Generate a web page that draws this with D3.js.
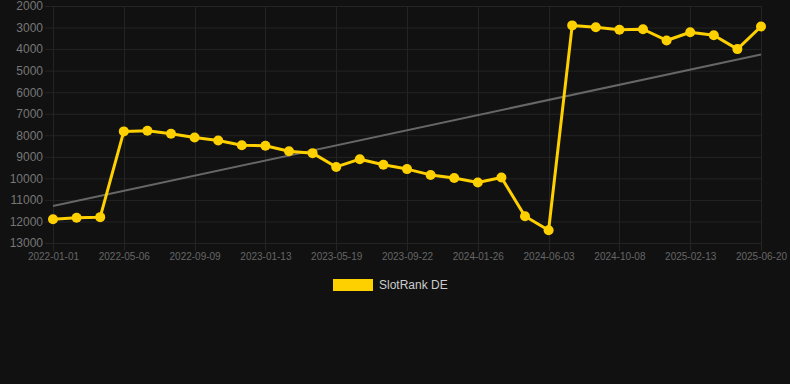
<!DOCTYPE html>
<html>
<head>
<meta charset="utf-8">
<script src="https://cdn.jsdelivr.net/npm/d3@7/dist/d3.min.js"></script>
<style>
  html, body { margin: 0; padding: 0; background: #111111; }
  svg { display: block; }
</style>
</head>
<body>
<div id="chart"></div>
<script>
// categories (one every ~6 weeks)
var dates = [
  '2022-01-01','2022-02-12','2022-03-26','2022-05-06','2022-06-17','2022-07-29',
  '2022-09-09','2022-10-21','2022-12-02','2023-01-13','2023-02-24','2023-04-07',
  '2023-05-19','2023-06-30','2023-08-11','2023-09-22','2023-11-03','2023-12-15',
  '2024-01-26','2024-03-09','2024-04-22','2024-06-03','2024-07-15','2024-08-26',
  '2024-10-08','2024-11-19','2025-01-01','2025-02-13','2025-03-27','2025-05-08',
  '2025-06-20'
];
// SlotRank DE values
var ranks = [
  11900, 11830, 11800, 7820, 7790, 7930,
  8100, 8240, 8460, 8490, 8740, 8830,
  9470, 9110, 9370, 9570, 9840, 9980,
  10190, 9960, 11760, 12410, 2900, 2990,
  3100, 3080, 3600, 3220, 3360, 4000,
  2950
];
var yTicks = [2000, 3000, 4000, 5000, 6000, 7000, 8000, 9000, 10000, 11000, 12000, 13000];
var seriesName = 'SlotRank DE';

var width = 790, height = 384;
var margin = {top: 6, right: 29, bottom: 141, left: 53};

var svg = d3.select('#chart')
  .append('svg')
    .attr('width', width)
    .attr('height', height);

svg.append('rect')
  .attr('width', width)
  .attr('height', height)
  .attr('fill', '#111111');

var x = d3.scalePoint()
  .domain(dates)
  .range([margin.left, width - margin.right]);

var y = d3.scaleLinear()
  .domain([2000, 13000])
  .range([margin.top, height - margin.bottom]);

// only every 3rd label is shown
var shownDates = dates.filter(function(d, i){ return i % 3 === 0; });

// grid
var grid = svg.append('g');
grid.selectAll('line.h')
  .data(yTicks)
  .enter().append('line')
    .attr('x1', margin.left - 8)
    .attr('x2', width - margin.right)
    .attr('y1', function(d){ return y(d) + 0.5; })
    .attr('y2', function(d){ return y(d) + 0.5; })
    .attr('stroke', '#242424')
    .attr('stroke-width', 1);
grid.selectAll('line.v')
  .data(shownDates)
  .enter().append('line')
    .attr('x1', function(d){ return Math.round(x(d)) + 0.5; })
    .attr('x2', function(d){ return Math.round(x(d)) + 0.5; })
    .attr('y1', margin.top)
    .attr('y2', height - margin.bottom + 8)
    .attr('stroke', '#242424')
    .attr('stroke-width', 1);

// axes
var yAxis = svg.append('g')
  .attr('transform', 'translate(' + (margin.left - 10) + ',0)')
  .call(d3.axisLeft(y).tickValues(yTicks).tickSize(0).tickPadding(0).tickFormat(d3.format('d')));
yAxis.select('.domain').remove();
yAxis.selectAll('text')
  .attr('fill', '#777777')
  .style('font-family', 'Liberation Sans, Arial, sans-serif')
  .style('font-size', '12px');

var xAxis = svg.append('g')
  .attr('transform', 'translate(0,' + (height - margin.bottom) + ')')
  .call(d3.axisBottom(x).tickValues(shownDates).tickSize(0).tickPadding(10));
xAxis.select('.domain').remove();
xAxis.selectAll('text')
  .attr('fill', '#666666')
  .style('font-family', 'Liberation Sans, Arial, sans-serif')
  .style('font-size', '10px');

// trend line (least squares over index)
var n = ranks.length;
var mx = d3.mean(ranks, function(d, i){ return i; });
var my = d3.mean(ranks);
var sxy = d3.sum(ranks, function(d, i){ return (i - mx) * (d - my); });
var sxx = d3.sum(ranks, function(d, i){ return (i - mx) * (i - mx); });
var slope = sxy / sxx;
var icpt = my - slope * mx;

svg.append('line')
  .attr('x1', x(dates[0]))
  .attr('y1', y(icpt))
  .attr('x2', x(dates[n - 1]))
  .attr('y2', y(icpt + slope * (n - 1)))
  .attr('stroke', '#666666')
  .attr('stroke-width', 2);

// series
var line = d3.line()
  .x(function(d, i){ return x(dates[i]); })
  .y(function(d){ return y(d); });

svg.append('path')
  .datum(ranks)
  .attr('d', line)
  .attr('fill', 'none')
  .attr('stroke', '#FFD000')
  .attr('stroke-width', 3)
  .attr('stroke-linejoin', 'round');

svg.selectAll('circle.pt')
  .data(ranks)
  .enter().append('circle')
    .attr('class', 'pt')
    .attr('cx', function(d, i){ return x(dates[i]); })
    .attr('cy', function(d){ return y(d); })
    .attr('r', 5)
    .attr('fill', '#FFD000');

// legend
var legend = svg.append('g')
  .attr('transform', 'translate(333,279)');
legend.append('rect')
  .attr('width', 40)
  .attr('height', 12)
  .attr('fill', '#FFD000');
legend.append('text')
  .attr('x', 46)
  .attr('y', 10)
  .attr('fill', '#cccccc')
  .style('font-family', 'Liberation Sans, Arial, sans-serif')
  .style('font-size', '12px')
  .text(seriesName);
</script>
</body>
</html>
